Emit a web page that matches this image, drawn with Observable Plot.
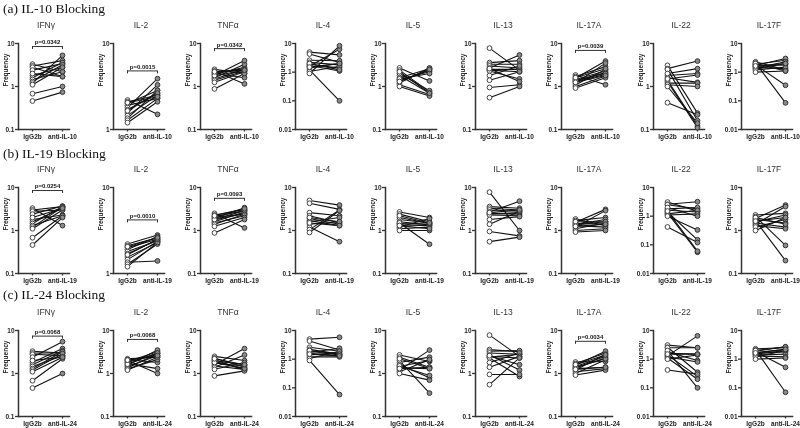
<!DOCTYPE html>
<html><head><meta charset="utf-8">
<script src="https://cdn.jsdelivr.net/npm/d3@7"></script>
<script src="https://cdn.jsdelivr.net/npm/@observablehq/plot@0.6"></script>
<style>
body{margin:0;background:#fff;}
*{-webkit-font-smoothing:antialiased;}
#root{position:relative;width:800px;height:428px;overflow:hidden;font-family:"Liberation Sans",Arial,sans-serif;background:#fff;}
.rowtitle{position:absolute;left:3px;font-family:"Liberation Serif","Times New Roman",serif;font-size:13.5px;color:#111;line-height:1;transform:translateY(-50%);white-space:nowrap;will-change:transform;}
.ptitle{position:absolute;font-size:8.5px;color:#333;transform:translate(-50%,-50%);white-space:nowrap;line-height:1;will-change:transform;}
.panel{position:absolute;will-change:transform;}
</style></head><body><div id="root"></div>
<script>
// ---------- data ----------
const cytokines = ["IFNγ","IL-2","TNFα","IL-4","IL-5","IL-13","IL-17A","IL-22","IL-17F"];
const rowTitles = ["(a) IL-10 Blocking","(b) IL-19 Blocking","(c) IL-24 Blocking"];
const controlLabel = "IgG2b";
const treatments = ["anti-IL-10","anti-IL-19","anti-IL-24"];
const yTickValues = [0.01, 0.1, 1, 10];

// IgG2b (control) frequencies per donor
const ctrl_IFNg  = [3.3, 3.0, 2.8, 2.4, 1.8, 1.6, 1.45, 1.3, 1.2, 1.1, 0.68, 0.46, 2.0];
const ctrl_IL2   = [2.2, 2.1, 2.0, 1.9, 1.8, 1.7, 1.55, 1.45, 1.35, 1.28, 1.2, 1.65, 2.05];
const ctrl_TNFa  = [2.5, 2.3, 2.1, 2.0, 1.9, 1.75, 1.6, 1.5, 1.4, 1.25, 0.88, 1.8, 2.2];
const ctrl_IL4   = [5.0, 4.3, 2.6, 2.2, 1.9, 1.7, 1.6, 1.4, 1.2, 1.05, 0.9, 2.0, 1.5];
const ctrl_IL5   = [2.7, 2.4, 2.0, 1.8, 1.6, 1.45, 1.35, 1.2, 1.1, 1.0, 1.5, 1.3, 2.2];
const ctrl_IL13  = [7.8, 3.6, 3.3, 3.0, 2.7, 2.5, 2.4, 2.3, 1.8, 1.4, 0.95, 0.55, 2.6];
const ctrl_IL17A = [1.85, 1.7, 1.55, 1.45, 1.35, 1.3, 1.2, 1.1, 1.0, 0.92, 1.4, 1.6, 1.25];
const ctrl_IL22  = [3.1, 2.6, 2.5, 1.8, 1.6, 1.4, 1.3, 1.2, 1.1, 1.0, 0.42, 2.0, 1.5];
const ctrl_IL17F = [2.3, 2.1, 1.9, 1.8, 1.7, 1.6, 1.5, 1.4, 1.3, 1.2, 1.0, 2.0, 1.65];

// (a) anti-IL-10
const a_IFNg  = [2.2, 4.0, 1.7, 3.4, 2.8, 3.6, 2.2, 3.2, 5.3, 2.8, 1.0, 0.74, 1.7];
const a_IL2   = [1.5, 2.5, 2.85, 2.3, 3.9, 2.65, 3.3, 2.5, 2.85, 2.3, 2.1, 2.65, 2.4];
const a_TNFa  = [2.0, 1.15, 2.6, 1.6, 2.8, 2.4, 3.3, 2.5, 2.3, 2.2, 2.0, 4.0, 2.4];
const a_IL4   = [4.0, 2.2, 2.5, 1.8, 1.4, 1.1, 6.3, 2.0, 0.1, 1.6, 8.3, 1.2, 2.0];
const a_IL5   = [1.35, 0.75, 0.8, 0.7, 2.6, 2.2, 2.4, 2.7, 0.65, 0.6, 2.0, 2.5, 0.7];
const a_IL13  = [2.4, 4.0, 3.3, 2.7, 5.4, 2.5, 2.2, 1.5, 3.0, 2.2, 1.1, 1.0, 1.3];
const a_IL17A = [1.1, 2.9, 3.9, 2.3, 2.1, 1.9, 3.5, 2.5, 1.75, 1.6, 2.0, 2.6, 1.8];
const a_IL22  = [0.24, 3.9, 0.16, 2.0, 1.25, 0.12, 0.11, 1.2, 1.0, 0.14, 0.22, 2.6, 1.85];
const a_IL17F = [1.2, 0.085, 2.6, 0.35, 3.0, 1.8, 1.3, 2.3, 2.0, 1.5, 1.1, 1.1, 2.0];

// (b) anti-IL-19
const b_IFNg  = [1.3, 3.6, 3.0, 3.7, 2.3, 3.3, 3.6, 2.2, 3.5, 3.0, 2.2, 2.0, 3.3];
const b_IL2   = [2.8, 2.6, 2.5, 2.7, 2.4, 2.45, 2.3, 2.35, 1.4, 2.2, 2.3, 2.5, 2.6];
const b_TNFa  = [1.15, 3.1, 2.9, 2.4, 3.4, 2.5, 2.7, 2.2, 2.4, 2.0, 1.8, 2.9, 3.2];
const b_IL4   = [3.9, 3.1, 2.2, 1.5, 1.4, 1.3, 2.0, 1.6, 0.55, 3.0, 2.9, 1.6, 1.3];
const b_IL5   = [2.0, 1.6, 1.45, 1.5, 1.35, 1.4, 1.3, 1.9, 1.2, 1.0, 0.48, 1.1, 1.5];
const b_IL13  = [1.0, 3.3, 3.0, 2.8, 4.8, 2.4, 2.6, 2.2, 2.1, 2.8, 0.75, 0.7, 3.0];
const b_IL17A = [1.3, 2.0, 3.1, 1.4, 1.6, 1.2, 2.9, 1.5, 1.1, 1.0, 1.8, 1.6, 1.4];
const b_IL22  = [1.5, 3.2, 1.8, 2.0, 1.4, 0.15, 0.055, 1.6, 1.2, 0.33, 0.12, 1.0, 0.06];
const b_IL17F = [2.5, 0.45, 3.9, 1.5, 0.2, 2.3, 1.2, 3.6, 1.1, 1.8, 2.0, 1.4, 2.0];

// (c) anti-IL-24
const c_IFNg  = [3.0, 3.0, 2.6, 5.5, 3.8, 3.4, 2.6, 3.2, 2.9, 2.4, 2.2, 1.0, 2.4];
const c_IL2   = [2.4, 1.8, 1.0, 3.2, 2.9, 1.3, 3.5, 2.6, 2.9, 2.1, 2.4, 3.0, 2.6];
const c_TNFa  = [2.0, 1.4, 1.2, 1.6, 1.3, 1.5, 3.8, 1.25, 2.7, 1.8, 1.15, 1.3, 1.6];
const c_IL4   = [5.8, 2.1, 1.9, 1.5, 1.4, 2.4, 1.3, 1.7, 1.2, 1.9, 0.058, 1.5, 1.3];
const c_IL5   = [1.9, 1.4, 0.35, 2.4, 0.8, 2.0, 1.3, 3.5, 2.1, 0.7, 0.9, 1.4, 1.3];
const c_IL13  = [2.5, 3.2, 3.4, 2.8, 1.2, 2.3, 2.8, 0.85, 3.0, 2.5, 0.95, 2.3, 1.6];
const c_IL17A = [1.9, 3.0, 3.3, 2.5, 2.3, 1.4, 2.8, 1.3, 2.1, 1.2, 2.2, 2.7, 1.4];
const c_IL22  = [2.5, 0.35, 2.5, 0.9, 1.5, 0.25, 6.5, 0.8, 0.2, 1.4, 0.3, 0.1, 1.5];
const c_IL17F = [2.5, 0.07, 2.7, 0.52, 2.2, 1.8, 2.0, 1.5, 1.2, 2.0, 1.1, 2.7, 2.2];

// y-axis extents (decades) per row
const yMin_a = [0.1, 1, 0.1, 0.01, 0.1, 0.1, 0.1, 0.1, 0.01];
const yMin_b = [0.1, 1, 0.1, 0.1, 0.1, 0.1, 0.1, 0.01, 0.1];
const yMin_c = [0.1, 0.1, 0.1, 0.01, 0.1, 0.1, 0.1, 0.01, 0.01];
const yMax = 10;

// p-value labels and bracket heights
const p_a = ["p=0.0342","p=0.0015","p=0.0342",null,null,null,"p=0.0039",null,null];
const pY_a = [8.5, 4.8, 7.6, null, null, null, 6.9, null, null];
const p_b = ["p=0.0254","p=0.0010","p=0.0093",null,null,null,null,null,null];
const pY_b = [8.5, 4.2, 5.6, null, null, null, null, null, null];
const p_c = ["p=0.0068","p=0.0068",null,null,null,null,"p=0.0034",null,null];
const pY_c = [7.4, 6.2, null, null, null, null, 5.6, null, null];

// ---------- layout ----------
const controls = [ctrl_IFNg, ctrl_IL2, ctrl_TNFa, ctrl_IL4, ctrl_IL5, ctrl_IL13, ctrl_IL17A, ctrl_IL22, ctrl_IL17F];
const treated = [
  [a_IFNg, a_IL2, a_TNFa, a_IL4, a_IL5, a_IL13, a_IL17A, a_IL22, a_IL17F],
  [b_IFNg, b_IL2, b_TNFa, b_IL4, b_IL5, b_IL13, b_IL17A, b_IL22, b_IL17F],
  [c_IFNg, c_IL2, c_TNFa, c_IL4, c_IL5, c_IL13, c_IL17A, c_IL22, c_IL17F]
];
const yMins = [yMin_a, yMin_b, yMin_c];
const pLabels = [p_a, p_b, p_c];
const pYs = [pY_a, pY_b, pY_c];

const axisX = [18, 113, 200, 295, 385, 475, 561, 653, 741];
const rowTop = [43, 187, 330];
const rowTitleY = [9, 154, 295];
const PH = 86, ML = 30, MR = 4, MT = 14, MB = 18, FW = 51;
const FONT = '"Liberation Sans", Arial, sans-serif';

const root = document.getElementById("root");

rowTitles.forEach((t, r) => {
  const d = document.createElement("div");
  d.className = "rowtitle";
  d.style.top = rowTitleY[r] + "px";
  d.textContent = t;
  root.appendChild(d);
});

for (let r = 0; r < 3; r++) {
  for (let c = 0; c < 9; c++) {
    const trt = treatments[r];
    const ctrl = controls[c];
    const tv = treated[r][c];
    const pts = [];
    ctrl.forEach((v, i) => {
      pts.push({id: i, g: controlLabel, v});
      pts.push({id: i, g: trt, v: tv[i]});
    });
    const lo = yMins[r][c];
    const ticks = yTickValues.filter(t => t >= lo && t <= yMax);
    const decades = Math.log10(yMax / lo);
    const tickRatio = Math.pow(10, 3 / (PH / decades));

    const marks = [
      Plot.frame({anchor: "left", stroke: "#333", strokeWidth: 1.5}),
      Plot.frame({anchor: "bottom", stroke: "#333", strokeWidth: 1.5}),
      Plot.axisY({ticks, tickFormat: d => String(d), tickSize: 3, tickPadding: 1,
        fontSize: 6.5, fontWeight: "bold", label: null, stroke: "#333", strokeWidth: 1.3}),
      Plot.axisX({tickSize: 2.5, tickPadding: 2, fontSize: 6.5, fontWeight: "bold", label: null,
        stroke: "#333", strokeWidth: 1.3}),
      Plot.text(["Frequency"], {frameAnchor: "left", dx: -13, rotate: -90,
        fontSize: 6.5, fontWeight: "bold", fill: "#222"}),
      Plot.line(pts, {x: "g", y: "v", z: "id", stroke: "#111", strokeWidth: 1.1}),
      Plot.dot(pts.filter(d => d.g === controlLabel), {x: "g", y: "v", r: 2.4, fill: "#fff", stroke: "#444", strokeWidth: 1}),
      Plot.dot(pts.filter(d => d.g !== controlLabel), {x: "g", y: "v", r: 2.4, fill: "#8a8a8a", stroke: "#333", strokeWidth: 1})
    ];
    const pl = pLabels[r][c];
    if (pl) {
      const br = [{a: controlLabel, b: trt, y: pYs[r][c], y2: pYs[r][c] / tickRatio, p: pl}];
      marks.push(
        Plot.ruleY(br, {y: "y", x1: "a", x2: "b", stroke: "#333", strokeWidth: 1}),
        Plot.ruleX(br, {x: "a", y1: "y", y2: "y2", stroke: "#333", strokeWidth: 1}),
        Plot.ruleX(br, {x: "b", y1: "y", y2: "y2", stroke: "#333", strokeWidth: 1}),
        Plot.text(br, {x: "a", y: "y", text: "p", dx: 15, dy: -4, fontSize: 6, fontWeight: "bold", fill: "#111", textAnchor: "middle"})
      );
    }

    const chart = Plot.plot({
      width: ML + FW + MR, height: MT + PH + MB,
      marginLeft: ML, marginRight: MR, marginTop: MT, marginBottom: MB,
      x: {type: "point", domain: [controlLabel, trt], range: [ML + 14, ML + 44], padding: 0},
      y: {type: "log", domain: [lo, yMax], range: [MT + PH, MT]},
      style: {fontFamily: FONT, background: "transparent", overflow: "visible", color: "#222"},
      marks
    });
    const wrap = document.createElement("div");
    wrap.className = "panel";
    wrap.style.left = (axisX[c] - ML) + "px";
    wrap.style.top = (rowTop[r] - MT) + "px";
    wrap.appendChild(chart);
    root.appendChild(wrap);

    const t = document.createElement("div");
    t.className = "ptitle";
    t.style.left = (axisX[c] + 28) + "px";
    t.style.top = (rowTop[r] - 18) + "px";
    t.textContent = cytokines[c];
    root.appendChild(t);
  }
}
</script></body></html>
